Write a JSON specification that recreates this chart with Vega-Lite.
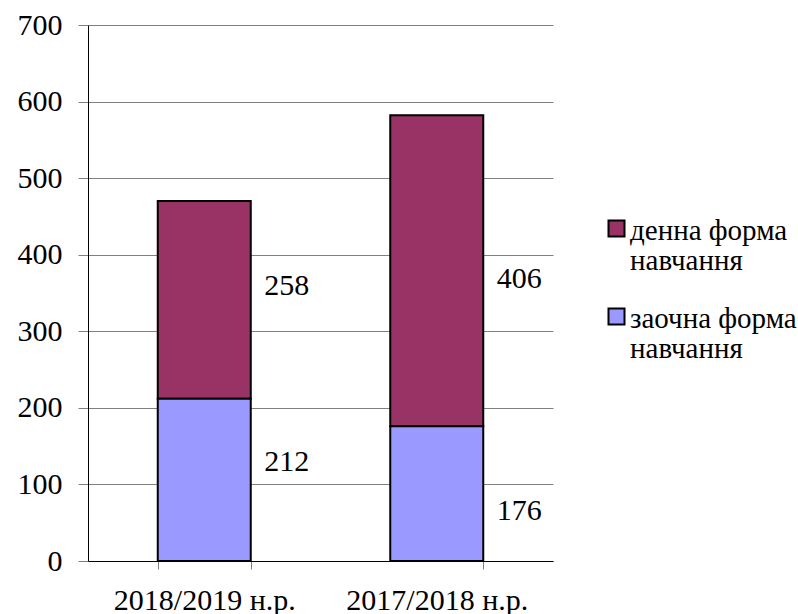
{
  "$schema": "https://vega.github.io/schema/vega-lite/v6.json",
  "width": 465,
  "height": 536,
  "autosize": "none",
  "padding": {"left": 88, "top": 25, "right": 245, "bottom": 53},
  "background": "white",
  "config": {"font": "'Liberation Serif', 'Times New Roman', serif", "view": {"stroke": null}},
  "data": {"values": [
    {"year": "2018/2019 н.р.", "form": "денна форма навчання", "value": 258, "ord": 2},
    {"year": "2018/2019 н.р.", "form": "заочна форма навчання", "value": 212, "ord": 1},
    {"year": "2017/2018 н.р.", "form": "денна форма навчання", "value": 406, "ord": 2},
    {"year": "2017/2018 н.р.", "form": "заочна форма навчання", "value": 176, "ord": 1}
  ]},
  "encoding": {
    "x": {
      "field": "year", "type": "nominal",
      "sort": ["2018/2019 н.р.", "2017/2018 н.р."],
      "scale": {"paddingInner": 0.6, "paddingOuter": 0.3},
      "axis": {
        "title": null, "labelAngle": 0, "tickBand": "extent", "tickSize": 8,
        "tickColor": "#808080", "domainColor": "black", "labelFontSize": 30,
        "labelColor": "black", "labelPadding": 16, "labelLimit": 0,
        "labelFont": "'Liberation Serif', 'Times New Roman', serif"
      }
    },
    "y": {
      "field": "value", "type": "quantitative", "stack": "zero",
      "scale": {"domain": [0, 700]},
      "axis": {
        "title": null, "values": [0, 100, 200, 300, 400, 500, 600, 700],
        "grid": true, "gridColor": "#808080", "gridOpacity": 1, "domainColor": "black",
        "tickColor": "#808080", "tickSize": 10, "labelFontSize": 30, "labelColor": "black",
        "labelPadding": 16, "labelFont": "'Liberation Serif', 'Times New Roman', serif"
      }
    },
    "detail": {"field": "form"},
    "order": {"field": "ord", "type": "quantitative"}
  },
  "layer": [
    {
      "mark": {"type": "bar", "stroke": "black", "strokeWidth": 2},
      "encoding": {
        "color": {
          "field": "form", "type": "nominal",
          "scale": {"domain": ["денна форма навчання", "заочна форма навчання"], "range": ["#993366", "#9999FF"]},
          "legend": {
            "title": null, "orient": "none", "legendX": 514, "legendY": 189,
            "symbolType": "square", "symbolSize": 256, "symbolStrokeColor": "black",
            "symbolStrokeWidth": 2, "symbolOpacity": 1,
            "labelFontSize": 29, "labelColor": "black",
            "labelFont": "'Liberation Serif', 'Times New Roman', serif",
            "labelOffset": -1, "rowPadding": 26, "labelLimit": 300, "labelBaseline": "top",
            "labelExpr": "datum.label == 'денна форма навчання' ? ['денна форма', 'навчання'] : ['заочна форма', 'навчання']",
            "encode": {"labels": {"update": {"lineHeight": {"value": 30}, "dy": {"value": -12}}}}
          }
        }
      }
    },
    {
      "mark": {
        "type": "text", "align": "left", "baseline": "middle", "dx": 60,
        "dy": {"expr": "datum.value == 258 ? -14 : datum.value == 212 ? -18 : datum.value == 406 ? 8 : 17"},
        "fontSize": 30, "color": "black", "font": "'Liberation Serif', 'Times New Roman', serif"
      },
      "encoding": {
        "y": {"field": "value", "type": "quantitative", "stack": "zero", "bandPosition": 0.5},
        "text": {"field": "value", "type": "quantitative"}
      }
    }
  ]
}
